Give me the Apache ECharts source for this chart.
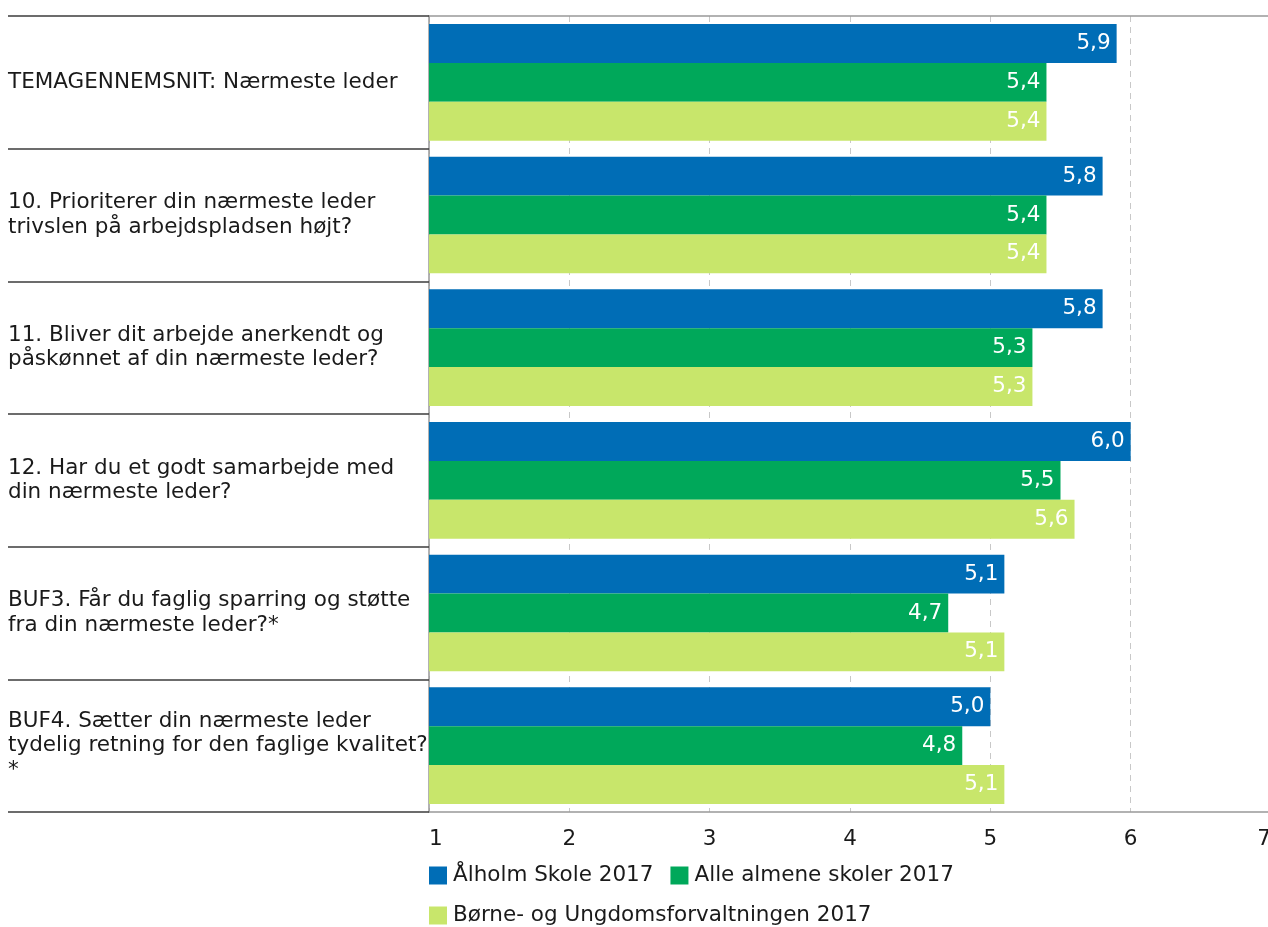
<!DOCTYPE html>
<html>
<head>
<meta charset="utf-8">
<script src="https://cdn.jsdelivr.net/npm/echarts@6/dist/echarts.min.js"></script>
<style>
html,body{margin:0;padding:0;background:#fff;overflow:hidden;}
#chart{width:1268px;height:927px;}
</style>
</head>
<body>
<div id="chart"></div>
<script>
const categories = [
  "TEMAGENNEMSNIT: Nærmeste leder",
  "10. Prioriterer din nærmeste leder\ntrivslen på arbejdspladsen højt?",
  "11. Bliver dit arbejde anerkendt og\npåskønnet af din nærmeste leder?",
  "12. Har du et godt samarbejde med\ndin nærmeste leder?",
  "BUF3. Får du faglig sparring og støtte\nfra din nærmeste leder?*",
  "BUF4. Sætter din nærmeste leder\ntydelig retning for den faglige kvalitet?\n*"
];
const seriesNames = ["Ålholm Skole 2017", "Alle almene skoler 2017", "Børne- og Ungdomsforvaltningen 2017"];
const alholm = [5.9, 5.8, 5.8, 6.0, 5.1, 5.0];
const alleSkoler = [5.4, 5.4, 5.3, 5.5, 4.7, 4.8];
const buf = [5.4, 5.4, 5.3, 5.6, 5.1, 5.1];
const xTicks = [1, 2, 3, 4, 5, 6, 7];

const colors = ["#006db6", "#00a85a", "#c8e66b"];
const FONT = "DejaVu Sans";
const FS = 21.5;

const chart = echarts.init(document.getElementById('chart'));

function mkSeries(name, data, color) {
  return {
    name: name,
    type: 'bar',
    data: data,
    barGap: '0%',
    barCategoryGap: '12%',
    itemStyle: { color: color },
    label: {
      show: true,
      position: 'insideRight',
      distance: 6,
      color: '#fff',
      fontFamily: FONT,
      fontSize: FS,
      formatter: p => p.value.toFixed(1).replace('.', ',')
    }
  };
}

chart.setOption({
  animation: false,
  color: colors,
  grid: { left: 429, width: 842, top: 16, height: 796, containLabel: false, outerBoundsMode: 'none' },
  legend: {
    data: seriesNames,
    left: 429,
    top: 864,
    width: 560,
    padding: 0,
    itemWidth: 18,
    itemHeight: 18,
    itemGap: 17,
    icon: 'rect',
    textStyle: { fontFamily: FONT, fontSize: FS, color: '#1a1a1a', lineHeight: 23, padding: [0, 0, 0, 1] }
  },
  xAxis: [{
    type: 'value',
    position: 'bottom',
    min: 1,
    max: 7,
    interval: 1,
    axisLine: { show: true, lineStyle: { color: '#999', width: 1.5 } },
    axisTick: { show: false },
    axisLabel: {
      fontFamily: FONT, fontSize: FS, color: '#1a1a1a', margin: 16,
      alignMinLabel: 'left',
      alignMaxLabel: 'right',
      formatter: v => xTicks.includes(v) ? String(v) : ''
    },
    splitLine: { show: true, lineStyle: { color: '#c8c8c8', type: [6, 5], width: 1 } }
  }, {
    type: 'value',
    position: 'top',
    min: 1,
    max: 7,
    interval: 1,
    axisLine: { show: true, lineStyle: { color: '#999', width: 1.5 } },
    axisTick: { show: false },
    axisLabel: { show: false },
    splitLine: { show: false }
  }],
  yAxis: {
    type: 'category',
    data: categories,
    inverse: true,
    axisLine: { show: true, lineStyle: { color: '#999', width: 1.5 } },
    axisTick: { show: true, length: 421, lineStyle: { color: '#3c3c3c', width: 1.5 } },
    axisLabel: {
      align: 'left',
      margin: 421,
      fontFamily: FONT,
      fontSize: FS,
      color: '#1a1a1a',
      lineHeight: 24.5
    },
    splitLine: { show: false }
  },
  series: [
    mkSeries(seriesNames[0], alholm, colors[0]),
    mkSeries(seriesNames[1], alleSkoler, colors[1]),
    mkSeries(seriesNames[2], buf, colors[2])
  ]
});
</script>
</body>
</html>
